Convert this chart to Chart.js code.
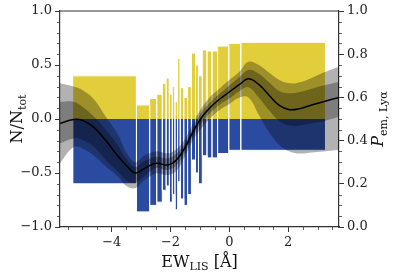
<!DOCTYPE html>
<html lang="en">
<head>
<meta charset="UTF-8">
<title>Emitter fraction vs EW_LIS</title>
<script src="https://cdn.jsdelivr.net/npm/chart.js"></script>
<style>
  html, body { margin: 0; padding: 0; background: #fff; }
</style>
</head>
<body>
<canvas id="chart" width="399" height="274"></canvas>
<script>
// histogram bins (EW_LIS, Angstrom) and the two fractions per bin
const binEdges = [-5.33, -3.16, -2.71, -2.47, -2.28, -2.15, -2.04, -1.94, -1.85, -1.76, -1.67,
                  -1.55, -1.42, -1.29, -1.15, -1.05, -0.92, -0.76, -0.59, -0.40, -0.02, 0.39, 3.27];
const emitterFrac = [0.40, 0.13, 0.19, 0.23, 0.33, 0.38, 0.23, 0.30, 0.16, 0.56, 0.29,
                     0.20, 0.30, 0.61, 0.50, 0.40, 0.64, 0.63, 0.63, 0.675, 0.70, 0.71];
const nonEmitterFrac = [-0.60, -0.86, -0.80, -0.77, -0.66, -0.62, -0.77, -0.70, -0.84, -0.58, -0.74,
                        -0.80, -0.70, -0.38, -0.50, -0.60, -0.34, -0.36, -0.36, -0.32, -0.29, -0.29];

// P_em,Lya curve with 1 and 2 sigma bands (right axis)
const ewGrid   = [-5.76, -5.3, -5.0, -4.6, -4.2, -3.8, -3.5, -3.2, -2.9, -2.5, -2.1, -1.8, -1.5, -1.2,
                  -0.9, -0.6, -0.3, 0.0, 0.35, 0.65, 1.0, 1.35, 1.7, 2.05, 2.4, 2.8, 3.2, 3.73];
const probMed  = [0.48, 0.498, 0.494, 0.46, 0.40, 0.33, 0.285, 0.25, 0.27, 0.295, 0.287, 0.31, 0.37, 0.45,
                  0.515, 0.56, 0.595, 0.625, 0.66, 0.686, 0.66, 0.61, 0.563, 0.543, 0.548, 0.565, 0.58, 0.60];
const prob1Hi  = [0.58, 0.58, 0.557, 0.51, 0.45, 0.38, 0.315, 0.278, 0.305, 0.325, 0.318, 0.34, 0.39, 0.47,
                  0.54, 0.585, 0.62, 0.655, 0.695, 0.727, 0.71, 0.67, 0.63, 0.619, 0.625, 0.64, 0.655, 0.673];
const prob1Lo  = [0.387, 0.41, 0.403, 0.37, 0.31, 0.258, 0.215, 0.205, 0.235, 0.272, 0.264, 0.285, 0.35, 0.43,
                  0.49, 0.535, 0.57, 0.595, 0.63, 0.647, 0.60, 0.54, 0.49, 0.47, 0.47, 0.48, 0.49, 0.51];
const prob2Hi  = [0.665, 0.65, 0.634, 0.59, 0.51, 0.43, 0.345, 0.30, 0.33, 0.35, 0.341, 0.36, 0.41, 0.49,
                  0.56, 0.61, 0.645, 0.68, 0.72, 0.765, 0.75, 0.715, 0.68, 0.665, 0.67, 0.69, 0.715, 0.742];
const prob2Lo  = [0.295, 0.37, 0.364, 0.33, 0.28, 0.235, 0.19, 0.18, 0.215, 0.248, 0.241, 0.26, 0.33, 0.41,
                  0.465, 0.51, 0.545, 0.57, 0.60, 0.60, 0.52, 0.44, 0.38, 0.35, 0.34, 0.345, 0.35, 0.356];

const xTicks  = [-4, -2, 0, 2];
const yTicks  = [-1, -0.5, 0, 0.5, 1];
const y2Ticks = [0, 0.2, 0.4, 0.6, 0.8, 1.0];

const SERIF = "'DejaVu Serif', serif";
const AXIS = '#333';

function minusFmt(v, digits) {
  const s = Math.abs(v).toFixed(digits);
  return v < -1e-9 ? '\u2212' + s : s;
}

function barOutline(vals) {
  const pts = [];
  vals.forEach((v, i) => {
    const lo = binEdges[i], hi = binEdges[i + 1];
    pts.push({x: lo, y: 0}, {x: lo, y: v}, {x: hi, y: v}, {x: hi, y: 0});
  });
  return pts;
}
const curve = arr => ewGrid.map((x, i) => ({x: x, y: arr[i]}));

const band = (data, fill) => ({
  data: data, yAxisID: 'y2', fill: fill, backgroundColor: 'rgba(0,0,0,0.3)',
  borderWidth: 0, pointRadius: 0, tension: 0.4
});

// draws subscripted text (mathtext-like) centred on (x, y), optionally rotated
function drawParts(ctx, parts, x, y, rot) {
  let w = 0;
  parts.forEach(p => { ctx.font = p.font; p.w = ctx.measureText(p.t).width; w += p.w; });
  ctx.save();
  ctx.translate(x, y);
  ctx.rotate(rot);
  ctx.fillStyle = '#111';
  ctx.textBaseline = 'alphabetic';
  ctx.textAlign = 'left';
  let cx = -w / 2;
  parts.forEach(p => { ctx.font = p.font; ctx.fillText(p.t, cx, p.dy); cx += p.w; });
  ctx.restore();
}

const decor = {
  id: 'decor',
  afterDraw(chart) {
    const {ctx, chartArea: a} = chart;
    const sx = chart.scales.x, sy = chart.scales.y, sy2 = chart.scales.y2;
    ctx.save();
    ctx.strokeStyle = AXIS;
    ctx.lineWidth = 1.2;
    ctx.beginPath(); ctx.moveTo(a.left, a.top); ctx.lineTo(a.right, a.top); ctx.stroke();

    ctx.lineWidth = 0.8;
    ctx.beginPath();
    for (let v = -5.5; v <= 3.6; v += 0.5) {
      if (Math.abs(v / 2 - Math.round(v / 2)) < 1e-6) continue;
      const px = Math.round(sx.getPixelForValue(v)) + 0.5;
      ctx.moveTo(px, a.bottom); ctx.lineTo(px, a.bottom + 3);
    }
    for (let i = -10; i <= 10; i++) {
      if (i % 5 === 0) continue;
      const py = Math.round(sy.getPixelForValue(i / 10)) + 0.5;
      ctx.moveTo(a.left, py); ctx.lineTo(a.left - 3, py);
    }
    for (let i = 0; i <= 20; i++) {
      if (i % 4 === 0) continue;
      const py = Math.round(sy2.getPixelForValue(i / 20)) + 0.5;
      ctx.moveTo(a.right, py); ctx.lineTo(a.right + 3, py);
    }
    ctx.stroke();
    ctx.restore();

    const big = '16px ' + SERIF, small = '11px ' + SERIF;
    drawParts(ctx, [
      {t: 'EW', font: big, dy: 0}, {t: 'LIS', font: small, dy: 3.5}, {t: ' [\u00c5]', font: big, dy: 0}
    ], (a.left + a.right) / 2, 266.5, 0);
    drawParts(ctx, [
      {t: 'N/N', font: big, dy: 0}, {t: 'tot', font: small, dy: 3.5}
    ], 22, (a.top + a.bottom) / 2, -Math.PI / 2);
    drawParts(ctx, [
      {t: 'P', font: 'italic 16px ' + SERIF, dy: 0}, {t: 'em, Ly\u03b1', font: small, dy: 3.5}
    ], 383, (a.top + a.bottom) / 2, -Math.PI / 2);
  }
};

const tickFont = {family: SERIF, size: 13};

new Chart(document.getElementById('chart'), {
  type: 'line',
  data: {
    datasets: [
      {data: curve(probMed), yAxisID: 'y2', borderColor: '#000', borderWidth: 1.5,
       pointRadius: 0, fill: false, tension: 0.4},
      band(curve(prob1Hi), 2),
      band(curve(prob1Lo), false),
      band(curve(prob2Hi), 4),
      band(curve(prob2Lo), false),
      {data: barOutline(emitterFrac), yAxisID: 'y', fill: 'origin', backgroundColor: '#e2ce3b',
       borderColor: '#fff', borderWidth: 1, pointRadius: 0, tension: 0},
      {data: barOutline(nonEmitterFrac), yAxisID: 'y', fill: 'origin', backgroundColor: '#2a4b9f',
       borderColor: '#fff', borderWidth: 1, pointRadius: 0, tension: 0}
    ]
  },
  options: {
    responsive: false,
    animation: false,
    parsing: true,
    layout: {padding: {top: 11, left: 0, right: 0, bottom: 0}},
    plugins: {legend: {display: false}, tooltip: {enabled: false}},
    scales: {
      x: {
        type: 'linear', min: -5.76, max: 3.73,
        afterBuildTicks: s => { s.ticks = xTicks.map(v => ({value: v})); },
        afterFit: s => { s.height = 47; },
        ticks: {font: tickFont, color: '#222', padding: 3, maxRotation: 0, autoSkip: false,
                callback: v => minusFmt(v, 0)},
        grid: {drawOnChartArea: false, tickLength: 5, color: AXIS, tickWidth: 1},
        border: {color: AXIS, width: 1.2}
      },
      y: {
        type: 'linear', position: 'left', min: -1, max: 1,
        afterBuildTicks: s => { s.ticks = yTicks.map(v => ({value: v})); },
        afterFit: s => { s.width = 60; },
        ticks: {font: tickFont, color: '#222', padding: 3, callback: v => minusFmt(v, 1)},
        grid: {drawOnChartArea: false, tickLength: 5, color: AXIS, tickWidth: 1},
        border: {color: AXIS, width: 1.2}
      },
      y2: {
        type: 'linear', position: 'right', min: 0, max: 1,
        afterBuildTicks: s => { s.ticks = y2Ticks.map(v => ({value: v})); },
        afterFit: s => { s.width = 60; },
        ticks: {font: tickFont, color: '#222', padding: 3, callback: v => minusFmt(v, 1)},
        grid: {drawOnChartArea: false, tickLength: 5, color: AXIS, tickWidth: 1},
        border: {color: AXIS, width: 1.2}
      }
    }
  },
  plugins: [decor]
});
</script>
</body>
</html>
